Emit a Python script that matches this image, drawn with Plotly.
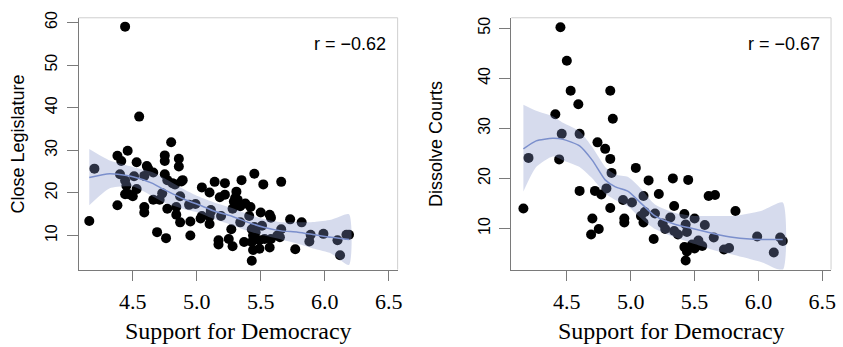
import plotly.graph_objects as go

# ---------------- data: left panel (Close Legislature) ----------------
close_x = [4.44, 4.55, 4.80, 4.46, 4.38, 4.20, 4.16, 4.41, 4.53, 4.61, 4.75, 4.75, 4.86, 4.86,
           4.66, 4.40, 4.44, 4.51, 4.59, 4.62, 4.75, 4.77, 4.45, 4.53, 4.47, 4.44, 4.50, 4.38,
           4.59, 4.59, 4.66, 4.73, 4.71, 4.81, 4.88, 4.89, 4.77, 4.84, 4.84, 4.87, 4.87, 4.69,
           4.76, 4.94, 4.95, 4.95, 4.99, 5.04, 5.03, 5.10, 5.10, 5.14, 5.11, 5.10, 5.18, 5.22,
           5.22, 5.19, 5.17, 5.17, 5.25, 5.28, 5.27, 5.28, 5.31, 5.30, 5.29, 5.34, 5.35, 5.34,
           5.37, 5.42, 5.41, 5.45, 5.43, 5.44, 5.43, 5.44, 5.43, 5.46, 5.50, 5.52, 5.49, 5.49,
           5.53, 5.51, 5.57, 5.58, 5.57, 5.58, 5.63, 5.65, 5.66, 5.66, 5.73, 5.77, 5.82, 5.88,
           5.89, 5.99, 6.10, 6.12, 6.17, 6.19, 5.32, 5.04, 5.11, 4.83, 5.45, 5.38]
close_y = [59.0, 37.9, 31.9, 29.9, 28.7, 25.7, 13.4, 27.5, 27.2, 26.3, 28.8, 27.5, 28.0, 26.2,
           24.8, 24.4, 22.9, 23.9, 24.0, 25.7, 24.4, 23.0, 21.7, 20.9, 19.7, 19.7, 19.2, 17.1,
           16.7, 15.4, 18.4, 19.9, 18.4, 22.3, 22.7, 23.0, 16.3, 16.7, 14.9, 13.1, 19.2, 10.8,
           9.4, 17.2, 13.3, 10.0, 17.4, 21.3, 14.0, 14.4, 20.1, 22.6, 16.0, 12.7, 19.0, 19.6,
           22.3, 14.6, 8.9, 7.9, 9.2, 7.5, 11.5, 16.3, 20.3, 18.8, 18.0, 16.9, 23.0, 13.1,
           8.5, 16.7, 14.6, 24.5, 11.5, 10.0, 8.5, 6.6, 4.1, 10.8, 15.4, 22.0, 8.9, 6.9,
           9.2, 12.3, 7.2, 9.2, 14.9, 14.2, 10.0, 9.6, 11.5, 22.6, 13.8, 6.8, 13.1, 8.6,
           10.2, 10.4, 8.9, 5.4, 10.2, 10.2, 18.4, 14.6, 15.6, 22.0, 12.0, 17.5]

close_fit_x = [4.16, 4.32, 4.50, 4.65, 4.75, 4.91, 5.01, 5.14, 5.27, 5.40, 5.53, 5.66, 5.79,
               5.92, 6.05, 6.19]
close_fit = [23.6, 24.5, 23.8, 22.3, 20.7, 18.4, 17.3, 15.7, 14.6, 13.1, 11.9, 11.1, 10.8,
             10.2, 9.6, 9.1]
close_upper = [30.3, 27.6, 26.1, 24.9, 23.4, 20.7, 19.2, 17.7, 16.5, 15.0, 13.8, 13.1, 13.1,
               13.2, 13.7, 15.0]
close_lower = [17.1, 21.1, 21.5, 19.3, 17.7, 16.1, 15.4, 13.8, 12.5, 11.1, 10.0, 9.1, 8.1,
               6.9, 5.8, 3.1]

# ---------------- data: right panel (Dissolve Courts) ----------------
courts_x = [4.45, 4.50, 4.53, 4.59, 4.41, 4.46, 4.60, 4.44, 4.20, 4.16, 4.60, 4.84, 4.86, 4.74,
            4.80, 4.84, 4.85, 4.81, 4.72, 4.77, 4.84, 4.70, 4.75, 4.69, 4.94, 5.01, 4.95, 4.95,
            5.04, 5.14, 5.10, 5.11, 5.08, 5.10, 5.18, 5.19, 5.22, 5.25, 5.27, 5.31, 5.33, 5.34,
            5.34, 5.37, 5.42, 5.43, 5.44, 5.42, 5.44, 5.43, 5.45, 5.47, 5.50, 5.50, 5.53, 5.56,
            5.58, 5.61, 5.66, 5.65, 5.73, 5.77, 5.82, 5.99, 6.12, 6.17, 6.19, 5.48]
courts_y = [50.2, 43.5, 37.5, 34.8, 32.8, 28.9, 28.9, 23.8, 24.1, 14.0, 17.5, 37.5, 31.9, 27.2,
            25.9, 23.9, 21.1, 18.0, 17.5, 16.8, 14.1, 12.0, 9.9, 8.8, 15.7, 15.2, 12.0, 11.2,
            22.1, 19.6, 16.5, 13.3, 12.5, 11.2, 7.9, 13.0, 16.9, 11.0, 9.9, 12.2, 20.0, 14.5,
            9.5, 8.8, 12.9, 10.8, 9.3, 6.3, 5.4, 3.6, 19.7, 6.2, 6.0, 12.0, 7.6, 6.5,
            10.7, 16.5, 16.7, 8.2, 5.8, 6.1, 13.5, 8.4, 5.2, 8.2, 7.5, 6.8]

courts_fit_x = [4.16, 4.26, 4.39, 4.47, 4.60, 4.70, 4.80, 4.88, 4.98, 5.09, 5.19, 5.35, 5.50,
                5.66, 5.81, 6.02, 6.19]
courts_fit = [25.9, 27.5, 28.0, 27.8, 26.5, 23.6, 19.7, 18.3, 17.4, 14.8, 12.5, 10.8, 9.9,
              8.9, 8.2, 7.8, 7.8]
courts_upper = [34.7, 33.5, 32.4, 31.1, 29.4, 26.2, 22.3, 20.8, 20.3, 17.7, 14.8, 13.1, 12.5,
                12.5, 12.5, 13.5, 15.2]
courts_lower = [17.4, 22.3, 24.4, 23.6, 22.3, 20.0, 17.0, 15.7, 14.4, 11.8, 9.9, 8.2, 6.9,
                5.6, 4.7, 3.3, 1.7]

r_labels = ["r = \u22120.62", "r = \u22120.67"]
y_titles = ["Close Legislature", "Dissolve Courts"]
x_title = "Support for Democracy"
x_ticks = [4.5, 5.0, 5.5, 6.0, 6.5]
y_ticks_left = [10, 20, 30, 40, 50, 60]
y_ticks_right = [10, 20, 30, 40, 50]

W, H = 843, 347
BAND = "rgba(130,145,200,0.33)"
LINE = "#7b8fcc"
AX = "#7a7a7a"
BOX = "#cfcfcf"

fig = go.Figure()

panels = [
    dict(xs=close_x, ys=close_y, fx=close_fit_x, fy=close_fit, up=close_upper, lo=close_lower,
         xa="x", ya="y"),
    dict(xs=courts_x, ys=courts_y, fx=courts_fit_x, fy=courts_fit, up=courts_upper,
         lo=courts_lower, xa="x2", ya="y2"),
]

for p in panels:
    fig.add_trace(go.Scatter(x=p["xs"], y=p["ys"], mode="markers",
                             marker=dict(size=10, color="black", line=dict(width=0)),
                             xaxis=p["xa"], yaxis=p["ya"], showlegend=False, hoverinfo="skip"))
    fig.add_trace(go.Scatter(x=p["fx"] + p["fx"][::-1], y=p["up"] + p["lo"][::-1],
                             fill="toself", fillcolor=BAND, mode="lines",
                             line=dict(width=0, shape="spline", smoothing=0.6),
                             xaxis=p["xa"], yaxis=p["ya"], showlegend=False, hoverinfo="skip"))
    fig.add_trace(go.Scatter(x=p["fx"], y=p["fy"], mode="lines",
                             line=dict(color=LINE, width=1.5, shape="spline", smoothing=0.6),
                             xaxis=p["xa"], yaxis=p["ya"], showlegend=False, hoverinfo="skip"))

# plot area pixel boxes
L1, R1 = 79, 400
L2, R2 = 514.3, 836
TOP, BOT = 11, 268

def fx(px):
    return px / W

def fy(py):
    return 1 - py / H

xaxis_common = dict(tickvals=x_ticks, ticktext=[f"{v:.1f}" for v in x_ticks],
                    ticks="outside", ticklen=10, tickcolor=AX, tickwidth=1,
                    showline=True, linecolor=AX, linewidth=1, showgrid=False, zeroline=False,
                    tickfont=dict(family="Liberation Serif", size=22, color="black"),
                    ticklabelstandoff=2)
yaxis_common = dict(ticks="outside", ticklen=11, tickcolor=AX, tickwidth=1,
                    showline=True, linecolor=AX, linewidth=1, showgrid=False, zeroline=False,
                    tickangle=-90,
                    tickfont=dict(family="Liberation Sans", size=16, color="black"),
                    ticklabelstandoff=3)

fig.update_layout(
    width=W, height=H,
    margin=dict(l=0, r=0, t=0, b=0),
    paper_bgcolor="white", plot_bgcolor="white",
    showlegend=False,
    xaxis=dict(domain=[fx(L1), fx(R1)], range=[4.076, 6.57], anchor="y", **xaxis_common),
    yaxis=dict(domain=[fy(BOT), fy(TOP)], range=[2.02, 61.08], anchor="x",
               tickvals=y_ticks_left, **yaxis_common),
    xaxis2=dict(domain=[fx(L2), fx(R2)], range=[4.065, 6.568], anchor="y2", **xaxis_common),
    yaxis2=dict(domain=[fy(BOT), fy(TOP)], range=[1.78, 52.09], anchor="x2",
                tickvals=y_ticks_right, **yaxis_common),
)

# light box on top and right
for xa, ya in [("x", "y"), ("x2", "y2")]:
    fig.add_shape(type="line", xref=f"{xa} domain", yref=f"{ya} domain",
                  x0=0, x1=1, y0=1, y1=1, line=dict(color=BOX, width=1))
    fig.add_shape(type="line", xref=f"{xa} domain", yref=f"{ya} domain",
                  x0=1, x1=1, y0=0, y1=1, line=dict(color=BOX, width=1))

# r labels
for (r_lab, right_px) in zip(r_labels, [390.7, 826.7]):
    fig.add_annotation(text=r_lab, xref="paper", yref="paper", x=fx(right_px), y=fy(38),
                       xanchor="right", yanchor="middle", showarrow=False,
                       font=dict(family="Liberation Sans", size=18, color="black"))

# axis titles
for (yt, cx) in zip(y_titles, [18, 438]):
    fig.add_annotation(text=yt, xref="paper", yref="paper", x=fx(cx), y=fy((TOP + BOT) / 2),
                       textangle=-90, xanchor="center", yanchor="middle", showarrow=False,
                       font=dict(family="Liberation Sans", size=18, color="black"))
for cx in [(L1 + R1) / 2, (L2 + R2) / 2]:
    fig.add_annotation(text=x_title, xref="paper", yref="paper", x=fx(cx), y=fy(331),
                       xanchor="center", yanchor="middle", showarrow=False,
                       font=dict(family="Liberation Serif", size=24, color="black"))

fig.write_html("out.html")
